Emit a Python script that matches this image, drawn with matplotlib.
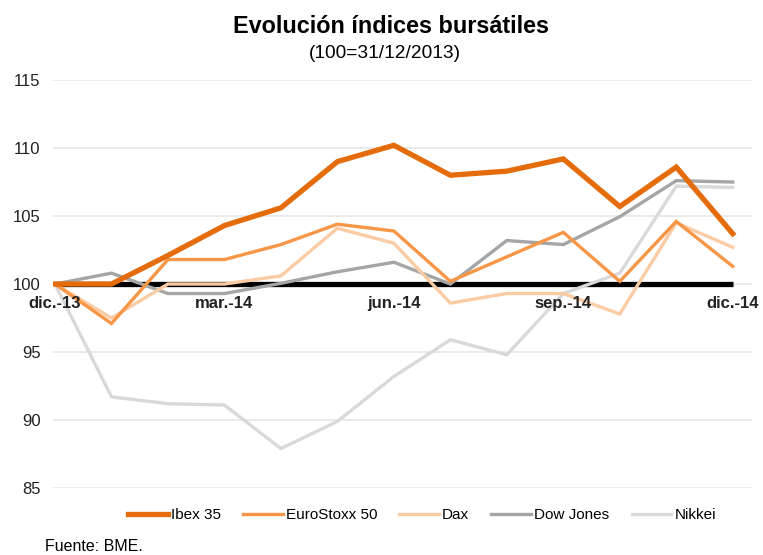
import matplotlib
matplotlib.use("Agg")
import matplotlib.pyplot as plt

plt.rcParams["font.family"] = ["Liberation Sans", "DejaVu Sans"]

# monthly closes, base 100 = 31/12/2013
months = ["dic.-13", "ene.-14", "feb.-14", "mar.-14", "abr.-14", "may.-14", "jun.-14",
          "jul.-14", "ago.-14", "sep.-14", "oct.-14", "nov.-14", "dic.-14"]
ibex35 = [100, 100, 102.1, 104.3, 105.6, 109.0, 110.2, 108.0, 108.3, 109.2, 105.7, 108.6, 103.7]
eurostoxx50 = [100, 97.1, 101.8, 101.8, 102.9, 104.4, 103.9, 100.2, 102.0, 103.8, 100.2, 104.6, 101.3]
dax = [100, 97.5, 100.0, 100.0, 100.6, 104.1, 103.0, 98.6, 99.3, 99.3, 97.8, 104.5, 102.7]
dow_jones = [100, 100.8, 99.3, 99.3, 100.05, 100.9, 101.6, 100.0, 103.2, 102.9, 104.95, 107.6, 107.5]
nikkei = [100, 91.7, 91.2, 91.1, 87.9, 89.9, 93.2, 95.9, 94.8, 99.3, 100.8, 107.2, 107.1]
base = [100] * len(months)

tick_idx = [0, 3, 6, 9, 12]
y_ticks = [85, 90, 95, 100, 105, 110, 115]

series = [
    ("Ibex 35", ibex35, "#E46C0A", 3.8),
    ("EuroStoxx 50", eurostoxx50, "#F79646", 2.4),
    ("Dax", dax, "#FBCBA3", 2.4),
    ("Dow Jones", dow_jones, "#A5A5A5", 2.4),
    ("Nikkei", nikkei, "#D9D9D9", 2.4),
]

fig = plt.figure(figsize=(7.63, 5.55), dpi=100)
ax = fig.add_axes([0.0695, 0.1207, 0.916, 0.7351])

x = list(range(len(months)))
ax.plot(x, base, color="black", lw=3.8, zorder=2, solid_capstyle="butt")
handles = []
# draw back to front so Ibex sits on top
for name, vals, col, lw in reversed(series):
    h, = ax.plot(x, vals, color=col, lw=lw, zorder=3, solid_joinstyle="miter")
    handles.append((name, h))
handles = handles[::-1]

ax.set_xlim(-0.035, 12.34)
ax.set_ylim(85, 115)
ax.set_yticks(y_ticks)
ax.set_yticklabels([str(v) for v in y_ticks], fontsize=12)
ax.tick_params(axis="y", length=0, pad=9, colors="#222222")
ax.grid(axis="y", color="#E6E6E6", lw=1.2, zorder=0)
ax.set_xticks([])
for s in ax.spines.values():
    s.set_visible(False)

# month labels sit just under the 100 line
for i in tick_idx:
    ax.text(i, 99.1, months[i], ha="center", va="top", fontsize=12,
            fontweight="bold", color="#222222")

fig.text(0.512, 0.9405, "Evolución índices bursátiles", ha="center", va="baseline",
         fontsize=16.8, fontweight="bold")
fig.text(0.504, 0.895, "(100=31/12/2013)", ha="center", va="baseline", fontsize=13.8)

fig.legend([h for _, h in handles], [n for n, _ in handles], loc="center",
           bbox_to_anchor=(0.553, 0.072), ncol=5, frameon=False, fontsize=11,
           handlelength=2.6, handletextpad=0.2, columnspacing=1.45)

fig.text(0.059, 0.002, "Fuente: BME.", ha="left", va="bottom", fontsize=11.5)

fig.savefig("out.png", dpi=100)
